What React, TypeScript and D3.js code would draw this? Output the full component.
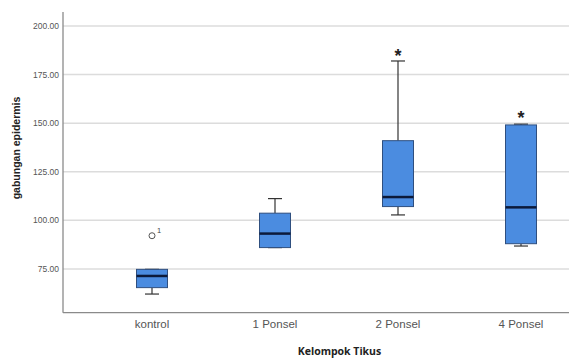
import React, { useEffect, useRef } from 'react';
import * as d3 from 'd3';

const categories = ['kontrol', '1 Ponsel', '2 Ponsel', '4 Ponsel'];
const lowerWhisker = [62.1, 86.0, 102.8, 86.8];
const q1 = [65.4, 86.0, 107.1, 88.0];
const median = [71.4, 93.2, 112.0, 106.7];
const q3 = [74.8, 103.7, 141.0, 149.1];
const upperWhisker = [74.8, 111.2, 182.0, 149.5];
const outliers = [{ cat: 'kontrol', value: 92.1, label: '1' }];
const extremes = [
  { cat: '2 Ponsel', value: 186.8 },
  { cat: '4 Ponsel', value: 155.1 },
];
const yTicks = [75, 100, 125, 150, 175, 200];

export default function App() {
  const svgRef = useRef<SVGSVGElement>(null);

  useEffect(() => {
    const svg = d3.select(svgRef.current);
    svg.selectAll('*').remove();

    const width = 569;
    const height = 358;
    const left = 63;
    const top = 12;
    const bottom = 312.7;

    const y = d3.scaleLinear().domain([52.5, 207.2]).range([bottom, top]);
    const x = d3.scalePoint().domain(categories).range([left + 89, left + 458]);

    svg.append('rect').attr('width', width).attr('height', height).attr('fill', '#fff');

    // gridlines
    svg.append('g')
      .selectAll('line')
      .data(yTicks)
      .enter()
      .append('line')
      .attr('x1', left)
      .attr('x2', width)
      .attr('y1', (d) => y(d))
      .attr('y2', (d) => y(d))
      .attr('stroke', '#dcdcdc')
      .attr('stroke-width', 1.5);

    // tick labels
    svg.append('g')
      .selectAll('text')
      .data(yTicks)
      .enter()
      .append('text')
      .attr('x', left - 4)
      .attr('y', (d) => y(d))
      .attr('dy', '0.35em')
      .attr('text-anchor', 'end')
      .attr('font-family', 'Liberation Sans, Arial, sans-serif')
      .attr('font-size', 8.5)
      .attr('fill', '#555')
      .text((d) => d3.format('.2f')(d));

    // axes lines
    svg.append('line')
      .attr('x1', left).attr('x2', left)
      .attr('y1', top).attr('y2', bottom)
      .attr('stroke', '#8a8a8a').attr('stroke-width', 1.3);
    svg.append('line')
      .attr('x1', left).attr('x2', width)
      .attr('y1', bottom).attr('y2', bottom)
      .attr('stroke', '#8a8a8a').attr('stroke-width', 1.3);

    const boxW = 31;
    const capW = 14;
    const g = svg.append('g');

    categories.forEach((c, i) => {
      const cx = x(c) as number;
      // whiskers
      g.append('line')
        .attr('x1', cx).attr('x2', cx)
        .attr('y1', y(upperWhisker[i])).attr('y2', y(q3[i]))
        .attr('stroke', '#333').attr('stroke-width', 1.2);
      g.append('line')
        .attr('x1', cx).attr('x2', cx)
        .attr('y1', y(q1[i])).attr('y2', y(lowerWhisker[i]))
        .attr('stroke', '#333').attr('stroke-width', 1.2);
      g.append('line')
        .attr('x1', cx - capW / 2).attr('x2', cx + capW / 2)
        .attr('y1', y(upperWhisker[i])).attr('y2', y(upperWhisker[i]))
        .attr('stroke', '#333').attr('stroke-width', 1.2);
      g.append('line')
        .attr('x1', cx - capW / 2).attr('x2', cx + capW / 2)
        .attr('y1', y(lowerWhisker[i])).attr('y2', y(lowerWhisker[i]))
        .attr('stroke', '#333').attr('stroke-width', 1.2);
      // box
      g.append('rect')
        .attr('x', cx - boxW / 2)
        .attr('y', y(q3[i]))
        .attr('width', boxW)
        .attr('height', y(q1[i]) - y(q3[i]))
        .attr('fill', '#4b8ce0')
        .attr('stroke', '#2f4f7f')
        .attr('stroke-width', 1);
      // median
      g.append('line')
        .attr('x1', cx - boxW / 2).attr('x2', cx + boxW / 2)
        .attr('y1', y(median[i])).attr('y2', y(median[i]))
        .attr('stroke', '#0c1a3a').attr('stroke-width', 2.5);
    });

    outliers.forEach((o) => {
      const cx = x(o.cat) as number;
      g.append('circle')
        .attr('cx', cx)
        .attr('cy', y(o.value))
        .attr('r', 3)
        .attr('fill', 'none')
        .attr('stroke', '#555')
        .attr('stroke-width', 1);
      g.append('text')
        .attr('x', cx + 5)
        .attr('y', y(o.value) - 3)
        .attr('font-family', 'Liberation Sans, Arial, sans-serif')
        .attr('font-size', 7.5)
        .attr('fill', '#444')
        .text(o.label);
    });

    // extreme values marked with a star, centred on the value
    extremes.forEach((e) => {
      const cx = x(e.cat) as number;
      g.append('text')
        .attr('x', cx)
        .attr('y', y(e.value))
        .attr('dy', '0.57em')
        .attr('text-anchor', 'middle')
        .attr('font-family', 'Liberation Sans, Arial, sans-serif')
        .attr('font-weight', 'bold')
        .attr('font-size', 18)
        .attr('fill', '#222')
        .text('*');
    });

    // x labels
    svg.append('g')
      .selectAll('text')
      .data(categories)
      .enter()
      .append('text')
      .attr('x', (d) => x(d) as number)
      .attr('y', 328)
      .attr('text-anchor', 'middle')
      .attr('font-family', 'Liberation Sans, Arial, sans-serif')
      .attr('font-size', 11.5)
      .attr('fill', '#555')
      .text((d) => d);

    svg.append('text')
      .attr('x', 339.5)
      .attr('y', 355)
      .attr('text-anchor', 'middle')
      .attr('font-family', 'Open Sans, Liberation Sans, sans-serif')
      .attr('font-weight', 'bold')
      .attr('font-size', 10.5)
      .attr('fill', '#222')
      .text('Kelompok Tikus');

    svg.append('text')
      .attr('transform', `translate(20,${148}) rotate(-90)`)
      .attr('text-anchor', 'middle')
      .attr('font-family', 'Liberation Sans, Arial, sans-serif')
      .attr('font-weight', 'bold')
      .attr('font-size', 10.5)
      .attr('fill', '#222')
      .text('gabungan epidermis');
  }, []);

  return (
    <svg
      ref={svgRef}
      width={569}
      height={358}
      style={{ position: 'absolute', left: 0, top: 0 }}
    />
  );
}
